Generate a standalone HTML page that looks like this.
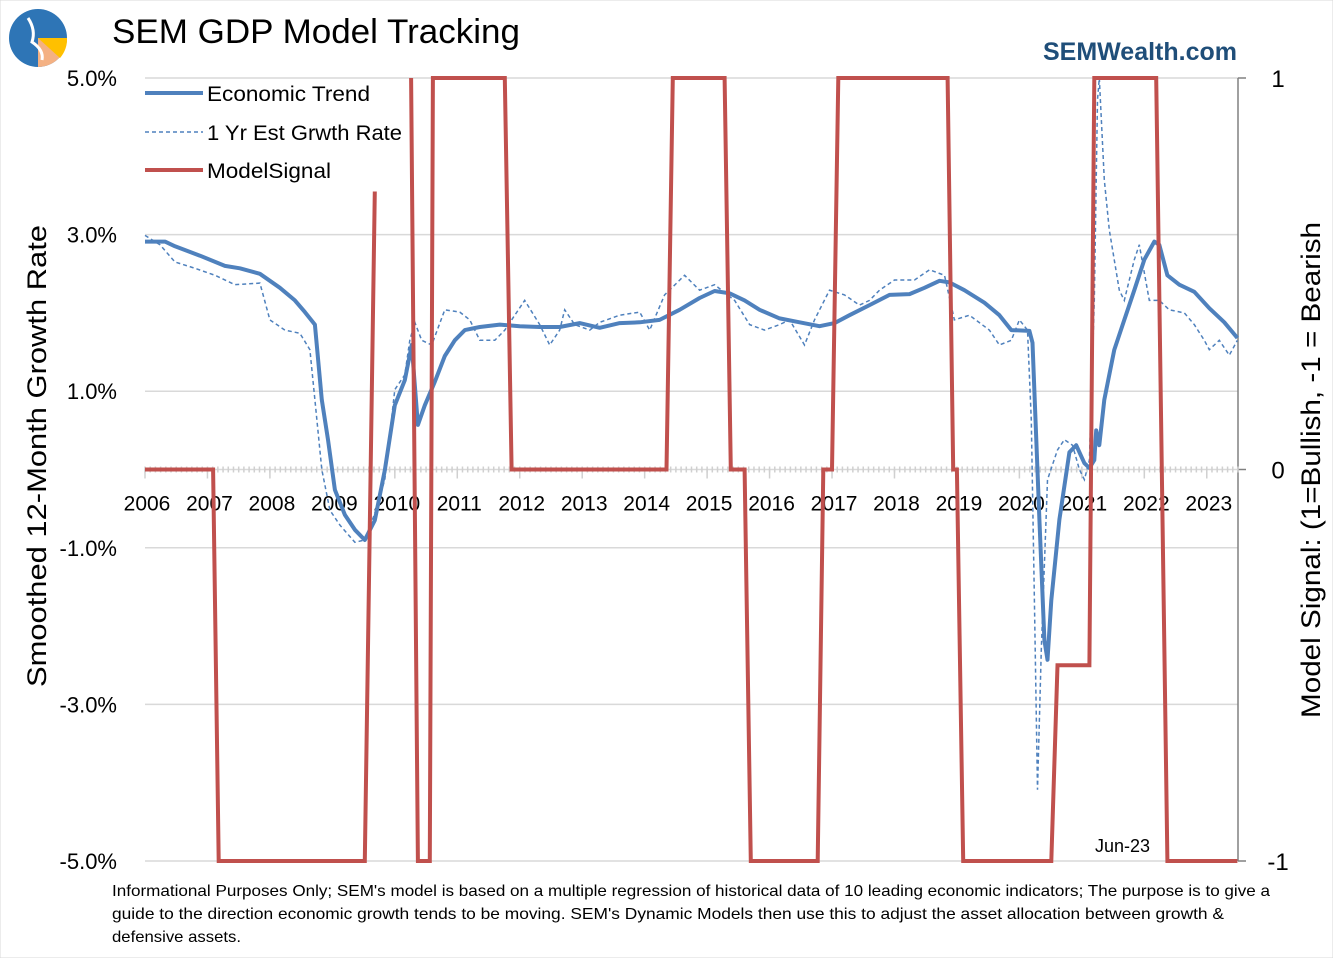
<!DOCTYPE html>
<html><head><meta charset="utf-8"><style>
body{margin:0;background:#fff;}
svg text{font-family:"Liberation Sans",sans-serif;}
</style></head><body>
<svg id="chart" width="1333" height="958" viewBox="0 0 1333 958" xmlns="http://www.w3.org/2000/svg">
<rect width="1333" height="958" fill="#fff" stroke="#d9d9d9"/>
<g>
<circle cx="38" cy="38" r="29" fill="#2e75b6"/>
<path d="M38 38 L38 67 A29 29 0 0 0 67 38 Z" fill="#f4b183"/>
<path d="M38 38 L60 58 A29 29 0 0 0 67 38 Z" fill="#ffc000"/>
<path d="M28 18 Q36 30 32 42 Q44 50 42 60" stroke="#fff" stroke-width="3" fill="none"/>
</g>
<text x="112" y="43" font-size="34" textLength="408" lengthAdjust="spacingAndGlyphs" fill="#000">SEM GDP Model Tracking</text>
<text x="1237" y="60" font-size="25" font-weight="bold" fill="#1f4e79" text-anchor="end">SEMWealth.com</text>
<g id="grid"></g>
<g id="axes"></g>
<g id="series"></g>
<g>
<line x1="145" y1="93" x2="203" y2="93" stroke="#4f81bd" stroke-width="4"/>
<text x="207" y="101" font-size="21" textLength="163" lengthAdjust="spacingAndGlyphs">Economic Trend</text>
<line x1="145" y1="132" x2="203" y2="132" stroke="#4f81bd" stroke-width="1.5" stroke-dasharray="4,3"/>
<text x="207" y="140" font-size="21" textLength="195" lengthAdjust="spacingAndGlyphs">1 Yr Est Grwth Rate</text>
<line x1="145" y1="170" x2="203" y2="170" stroke="#c0504d" stroke-width="4"/>
<text x="207" y="178" font-size="21" textLength="124" lengthAdjust="spacingAndGlyphs">ModelSignal</text>
</g>
<text x="1095" y="852" font-size="18">Jun-23</text>
<text transform="translate(46,456) rotate(-90)" font-size="27" textLength="462" lengthAdjust="spacingAndGlyphs" text-anchor="middle">Smoothed 12-Month Growth Rate</text>
<text transform="translate(1320,470) rotate(-90)" font-size="27" textLength="496" lengthAdjust="spacingAndGlyphs" text-anchor="middle">Model Signal: (1=Bullish, -1 = Bearish</text>
<g font-size="16">
<text x="112" y="896" textLength="1158" lengthAdjust="spacingAndGlyphs">Informational Purposes Only; SEM's model is based on a multiple regression of historical data of 10 leading economic indicators; The purpose is to give a</text>
<text x="112" y="919" textLength="1112" lengthAdjust="spacingAndGlyphs">guide to the direction economic growth tends to be moving. SEM's Dynamic Models then use this to adjust the asset allocation between growth &amp;</text>
<text x="112" y="942" textLength="129" lengthAdjust="spacingAndGlyphs">defensive assets.</text>
</g>
</svg>
<script>
const yearTicks=[2006,2007,2008,2009,2010,2011,2012,2013,2014,2015,2016,2017,2018,2019,2020,2021,2022,2023];
const pctTicks=[5,3,1,-1,-3,-5];
const pctTickLabels=["5.0%","3.0%","1.0%","-1.0%","-3.0%","-5.0%"];
const sigTicks=[1,0,-1];
const trendT=[2006.00,2006.32,2006.48,2006.88,2007.28,2007.52,2007.84,2008.16,2008.40,2008.56,2008.72,2008.83,2008.93,2009.04,2009.20,2009.36,2009.52,2009.68,2009.84,2010.00,2010.16,2010.27,2010.37,2010.48,2010.64,2010.80,2010.96,2011.12,2011.36,2011.68,2012.00,2012.32,2012.64,2012.96,2013.28,2013.60,2013.92,2014.24,2014.56,2014.88,2015.12,2015.36,2015.60,2015.84,2016.16,2016.48,2016.80,2017.04,2017.28,2017.60,2017.92,2018.24,2018.48,2018.72,2018.88,2019.12,2019.44,2019.68,2019.87,2020.16,2020.21,2020.32,2020.40,2020.45,2020.51,2020.64,2020.80,2020.91,2021.04,2021.12,2021.20,2021.23,2021.28,2021.36,2021.52,2021.68,2021.84,2022.00,2022.16,2022.24,2022.37,2022.56,2022.80,2023.04,2023.28,2023.49];
const trendV=[2.91,2.91,2.85,2.73,2.60,2.57,2.50,2.32,2.16,2.01,1.85,0.89,0.38,-0.26,-0.58,-0.77,-0.90,-0.65,-0.01,0.82,1.14,1.59,0.57,0.82,1.12,1.45,1.65,1.78,1.82,1.85,1.83,1.82,1.82,1.87,1.81,1.87,1.88,1.91,2.04,2.19,2.28,2.25,2.16,2.04,1.93,1.88,1.83,1.87,1.97,2.10,2.23,2.24,2.32,2.41,2.39,2.29,2.13,1.97,1.78,1.77,1.62,-0.64,-2.18,-2.43,-1.67,-0.64,0.22,0.31,0.08,0.02,0.12,0.50,0.31,0.89,1.53,1.91,2.29,2.68,2.91,2.87,2.48,2.36,2.27,2.06,1.88,1.68];
const estT=[2006.00,2006.24,2006.48,2006.80,2007.12,2007.44,2007.84,2008.00,2008.24,2008.48,2008.64,2008.72,2008.83,2008.96,2009.12,2009.36,2009.52,2009.68,2009.84,2010.00,2010.16,2010.24,2010.32,2010.43,2010.59,2010.80,2011.04,2011.20,2011.36,2011.60,2011.76,2012.08,2012.32,2012.48,2012.64,2012.72,2012.88,2013.12,2013.28,2013.60,2013.92,2014.08,2014.32,2014.64,2014.88,2015.12,2015.44,2015.68,2015.92,2016.16,2016.32,2016.56,2016.72,2016.96,2017.20,2017.44,2017.60,2017.76,2018.00,2018.32,2018.56,2018.80,2018.96,2019.20,2019.52,2019.68,2019.87,2020.00,2020.13,2020.19,2020.24,2020.29,2020.35,2020.45,2020.61,2020.72,2020.85,2020.96,2021.04,2021.12,2021.20,2021.25,2021.28,2021.36,2021.44,2021.60,2021.68,2021.84,2021.92,2022.08,2022.24,2022.40,2022.64,2022.80,2022.96,2023.04,2023.20,2023.36,2023.49];
const estV=[2.99,2.87,2.65,2.57,2.48,2.36,2.38,1.91,1.78,1.74,1.53,0.89,0.00,-0.52,-0.71,-0.93,-0.90,-0.56,-0.13,1.02,1.21,1.65,1.88,1.65,1.59,2.04,2.01,1.91,1.65,1.65,1.78,2.16,1.85,1.59,1.78,2.04,1.85,1.78,1.88,1.97,2.01,1.78,2.23,2.48,2.29,2.36,2.16,1.85,1.78,1.85,1.91,1.59,1.91,2.29,2.23,2.10,2.16,2.29,2.42,2.42,2.55,2.48,1.91,1.97,1.78,1.59,1.65,1.91,1.78,0.63,-1.67,-4.09,-2.30,-0.13,0.25,0.38,0.31,0.00,-0.13,0.12,2.16,4.72,5.00,3.70,3.06,2.29,2.16,2.68,2.87,2.16,2.16,2.04,2.00,1.85,1.65,1.53,1.65,1.46,1.65];
const sigT=[2006.00,2007.09,2007.18,2009.52,2009.68,null,2010.26,2010.37,2010.56,2010.61,2011.76,2011.87,2014.35,2014.45,2015.28,2015.38,2015.60,2015.70,2016.77,2016.86,2017.00,2017.10,2018.85,2018.94,2019.00,2019.10,2020.51,2020.61,2021.12,2021.20,2022.19,2022.37,2023.49];
const sigV=[0,0,-1,-1,0.71,null,1,-1,-1,1,1,0,0,1,1,0,0,-1,-1,0,0,1,1,0,0,-1,-1,-0.5,-0.5,1,1,-1,-1];

const NS="http://www.w3.org/2000/svg";
const L=145,R=1238,T=78,B=861;
const xS=t=>L+(t-2006)*(R-L)/17.5;
const yS=v=>T+(5-v)*(B-T)/10;
const y2S=v=>T+(1-v)*(B-T)/2;
function mk(tag,attrs,parent){const e=document.createElementNS(NS,tag);for(const k in attrs)e.setAttribute(k,attrs[k]);parent.appendChild(e);return e;}
const grid=document.getElementById('grid'),axes=document.getElementById('axes'),series=document.getElementById('series');
pctTicks.forEach((p,i)=>{
 const g=mk('line',{x1:L,x2:R,y1:yS(p),y2:yS(p),stroke:'#d9d9d9','stroke-width':1.5},grid);
 
 
 const t=mk('text',{x:117,y:yS(p)+8,'font-size':22,'text-anchor':'end'},axes);
 t.textContent=pctTickLabels[i];
 
 
});
const ax2=mk('line',{x1:R,x2:R,y1:T,y2:B,stroke:'#808080','stroke-width':1.5},axes);


sigTicks.forEach(s=>{
 mk('line',{x1:R,x2:R+8,y1:y2S(s),y2:y2S(s),stroke:'#808080','stroke-width':1.5},axes);
 const t=mk('text',{x:1278,y:y2S(s)+9,'font-size':24,'text-anchor':'middle'},axes);
 t.textContent=String(s);
 
 
});
const zy=yS(0);
const zl=mk('line',{x1:L,x2:R,y1:zy,y2:zy,stroke:'#d9d9d9','stroke-width':1.5},axes);


for(let m=0;m<=210;m++){const x=xS(2006+m/12);mk('line',{x1:x,x2:x,y1:zy-3,y2:zy+3,stroke:'#d0d0d0','stroke-width':1.5},axes);}
yearTicks.forEach(y=>{
 const x=xS(y);
 mk('line',{x1:x,x2:x,y1:zy,y2:zy+9,stroke:'#d0d0d0','stroke-width':1.5},axes);
 const t=mk('text',{x:x+2,y:zy+41,'font-size':21,'text-anchor':'middle'},axes);
 t.textContent=String(y);
 
 
});
function path(ts,vs,sc){let d='',pen=false;ts.forEach((t,i)=>{if(t===null||vs[i]===null){pen=false;return;}d+=(pen?'L':'M')+xS(t).toFixed(1)+' '+sc(vs[i]).toFixed(1)+' ';pen=true;});return d;}
const pe=mk('path',{d:path(estT,estV,yS),fill:'none',stroke:'#4f81bd','stroke-width':1.5,'stroke-dasharray':'4,3'},series);


const pt=mk('path',{d:path(trendT,trendV,yS),fill:'none',stroke:'#4f81bd','stroke-width':4,'stroke-linejoin':'round'},series);


const ps=mk('path',{d:path(sigT,sigV,y2S),fill:'none',stroke:'#c0504d','stroke-width':4},series);


</script>
</body></html>
